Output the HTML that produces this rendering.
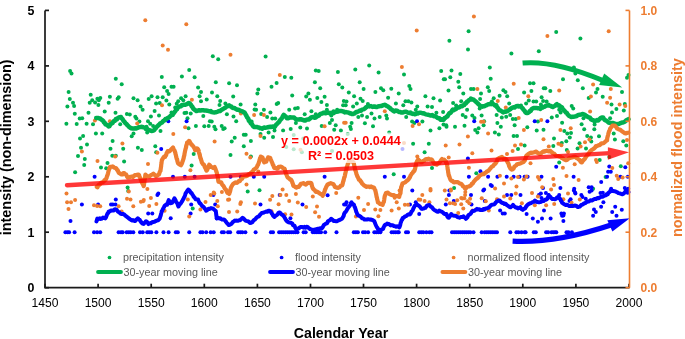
<!DOCTYPE html>
<html><head><meta charset="utf-8"><style>
html,body{margin:0;padding:0;background:#fff;}
body{width:685px;height:339px;overflow:hidden;}
svg{display:block;will-change:transform;font-family:"Liberation Sans",sans-serif;}
</style></head><body>
<svg width="685" height="339" viewBox="0 0 685 339">
<g fill="#00B050"><circle cx="70.1" cy="71.1" r="2.0"/><circle cx="71.5" cy="73.4" r="2.0"/><circle cx="68.6" cy="92.0" r="2.0"/><circle cx="90.7" cy="94.7" r="2.0"/><circle cx="115.8" cy="78.7" r="2.0"/><circle cx="121.7" cy="84.3" r="2.0"/><circle cx="212.8" cy="56.3" r="2.0"/><circle cx="218.2" cy="59.3" r="2.0"/><circle cx="189.2" cy="69.9" r="2.0"/><circle cx="161.8" cy="77.0" r="2.0"/><circle cx="181.9" cy="76.4" r="2.0"/><circle cx="194.6" cy="77.3" r="2.0"/><circle cx="215.8" cy="82.3" r="2.0"/><circle cx="229.1" cy="83.2" r="2.0"/><circle cx="237.0" cy="85.2" r="2.0"/><circle cx="164.2" cy="87.3" r="2.0"/><circle cx="171.5" cy="86.7" r="2.0"/><circle cx="173.6" cy="86.7" r="2.0"/><circle cx="167.1" cy="91.1" r="2.0"/><circle cx="168.6" cy="94.1" r="2.0"/><circle cx="198.1" cy="87.6" r="2.0"/><circle cx="201.0" cy="92.0" r="2.0"/><circle cx="212.0" cy="92.6" r="2.0"/><circle cx="265.6" cy="56.6" r="2.0"/><circle cx="284.8" cy="77.0" r="2.0"/><circle cx="291.3" cy="77.8" r="2.0"/><circle cx="276.6" cy="82.9" r="2.0"/><circle cx="271.5" cy="86.7" r="2.0"/><circle cx="258.3" cy="89.6" r="2.0"/><circle cx="257.4" cy="93.5" r="2.0"/><circle cx="315.8" cy="70.5" r="2.0"/><circle cx="318.7" cy="71.1" r="2.0"/><circle cx="337.9" cy="71.9" r="2.0"/><circle cx="314.9" cy="82.3" r="2.0"/><circle cx="320.2" cy="88.2" r="2.0"/><circle cx="338.8" cy="84.3" r="2.0"/><circle cx="342.3" cy="87.6" r="2.0"/><circle cx="308.4" cy="93.5" r="2.0"/><circle cx="369.2" cy="65.5" r="2.0"/><circle cx="355.3" cy="69.6" r="2.0"/><circle cx="378.6" cy="72.5" r="2.0"/><circle cx="404.0" cy="74.6" r="2.0"/><circle cx="441.2" cy="71.1" r="2.0"/><circle cx="443.8" cy="79.3" r="2.0"/><circle cx="359.7" cy="82.3" r="2.0"/><circle cx="363.6" cy="89.1" r="2.0"/><circle cx="348.8" cy="92.6" r="2.0"/><circle cx="375.4" cy="92.0" r="2.0"/><circle cx="381.0" cy="88.2" r="2.0"/><circle cx="383.3" cy="90.2" r="2.0"/><circle cx="391.3" cy="88.8" r="2.0"/><circle cx="398.7" cy="93.5" r="2.0"/><circle cx="409.3" cy="86.1" r="2.0"/><circle cx="410.5" cy="89.1" r="2.0"/><circle cx="468.6" cy="31.2" r="2.0"/><circle cx="449.4" cy="40.7" r="2.0"/><circle cx="468.0" cy="49.5" r="2.0"/><circle cx="511.4" cy="53.4" r="2.0"/><circle cx="538.8" cy="51.3" r="2.0"/><circle cx="489.8" cy="67.5" r="2.0"/><circle cx="451.5" cy="70.5" r="2.0"/><circle cx="460.3" cy="74.0" r="2.0"/><circle cx="450.3" cy="77.3" r="2.0"/><circle cx="458.3" cy="81.7" r="2.0"/><circle cx="490.7" cy="78.7" r="2.0"/><circle cx="445.0" cy="79.3" r="2.0"/><circle cx="459.2" cy="87.3" r="2.0"/><circle cx="448.5" cy="90.5" r="2.0"/><circle cx="463.3" cy="93.5" r="2.0"/><circle cx="471.0" cy="89.1" r="2.0"/><circle cx="473.6" cy="89.1" r="2.0"/><circle cx="487.8" cy="87.3" r="2.0"/><circle cx="489.2" cy="91.1" r="2.0"/><circle cx="481.0" cy="93.5" r="2.0"/><circle cx="503.4" cy="90.2" r="2.0"/><circle cx="505.5" cy="92.0" r="2.0"/><circle cx="530.0" cy="83.2" r="2.0"/><circle cx="533.5" cy="83.2" r="2.0"/><circle cx="524.1" cy="92.6" r="2.0"/><circle cx="531.4" cy="91.1" r="2.0"/><circle cx="543.8" cy="88.2" r="2.0"/><circle cx="556.2" cy="32.1" r="2.0"/><circle cx="580.4" cy="38.6" r="2.0"/><circle cx="573.9" cy="67.5" r="2.0"/><circle cx="575.4" cy="73.4" r="2.0"/><circle cx="563.0" cy="79.3" r="2.0"/><circle cx="577.8" cy="80.2" r="2.0"/><circle cx="545.3" cy="88.2" r="2.0"/><circle cx="550.3" cy="91.1" r="2.0"/><circle cx="582.8" cy="88.2" r="2.0"/><circle cx="597.5" cy="89.1" r="2.0"/><circle cx="596.0" cy="92.6" r="2.0"/><circle cx="622.0" cy="92.0" r="2.0"/><circle cx="627.0" cy="77.8" r="2.0"/><circle cx="628.5" cy="74.9" r="2.0"/><circle cx="123.2" cy="148.7" r="2.0"/><circle cx="110.5" cy="148.7" r="2.0"/><circle cx="137.9" cy="147.8" r="2.0"/><circle cx="141.8" cy="150.1" r="2.0"/><circle cx="81.0" cy="147.8" r="2.0"/><circle cx="78.0" cy="156.0" r="2.0"/><circle cx="84.8" cy="159.0" r="2.0"/><circle cx="112.3" cy="155.7" r="2.0"/><circle cx="115.8" cy="155.7" r="2.0"/><circle cx="124.1" cy="161.6" r="2.0"/><circle cx="84.2" cy="164.9" r="2.0"/><circle cx="107.5" cy="163.1" r="2.0"/><circle cx="101.0" cy="167.5" r="2.0"/><circle cx="75.1" cy="172.3" r="2.0"/><circle cx="128.2" cy="191.1" r="2.0"/><circle cx="127.6" cy="187.6" r="2.0"/><circle cx="243.8" cy="146.3" r="2.0"/><circle cx="230.5" cy="155.1" r="2.0"/><circle cx="155.3" cy="146.3" r="2.0"/><circle cx="156.2" cy="152.2" r="2.0"/><circle cx="191.6" cy="165.5" r="2.0"/><circle cx="250.9" cy="156.6" r="2.0"/><circle cx="286.3" cy="146.9" r="2.0"/><circle cx="293.7" cy="149.2" r="2.0"/><circle cx="301.9" cy="152.2" r="2.0"/><circle cx="332.0" cy="151.0" r="2.0"/><circle cx="424.6" cy="152.2" r="2.0"/><circle cx="393.7" cy="174.3" r="2.0"/><circle cx="192.7" cy="208.4" r="2.0"/><circle cx="69.8" cy="99.1" r="2.0"/><circle cx="73.0" cy="102.7" r="2.0"/><circle cx="74.1" cy="106.1" r="2.0"/><circle cx="67.4" cy="106.5" r="2.0"/><circle cx="92.2" cy="100.2" r="2.0"/><circle cx="89.7" cy="102.7" r="2.0"/><circle cx="95.1" cy="102.4" r="2.0"/><circle cx="97.4" cy="98.7" r="2.0"/><circle cx="100.3" cy="98.0" r="2.0"/><circle cx="98.8" cy="100.2" r="2.0"/><circle cx="98.4" cy="105.0" r="2.0"/><circle cx="109.9" cy="96.8" r="2.0"/><circle cx="108.7" cy="102.7" r="2.0"/><circle cx="118.7" cy="97.2" r="2.0"/><circle cx="117.6" cy="98.7" r="2.0"/><circle cx="133.5" cy="98.2" r="2.0"/><circle cx="137.6" cy="100.2" r="2.0"/><circle cx="140.6" cy="106.5" r="2.0"/><circle cx="142.6" cy="109.7" r="2.0"/><circle cx="74.8" cy="113.7" r="2.0"/><circle cx="88.5" cy="112.7" r="2.0"/><circle cx="104.7" cy="111.5" r="2.0"/><circle cx="115.5" cy="112.7" r="2.0"/><circle cx="126.9" cy="113.9" r="2.0"/><circle cx="129.8" cy="114.5" r="2.0"/><circle cx="79.7" cy="118.6" r="2.0"/><circle cx="82.2" cy="118.3" r="2.0"/><circle cx="66.4" cy="123.8" r="2.0"/><circle cx="76.7" cy="124.1" r="2.0"/><circle cx="86.6" cy="123.8" r="2.0"/><circle cx="93.0" cy="124.2" r="2.0"/><circle cx="120.2" cy="124.2" r="2.0"/><circle cx="135.3" cy="116.8" r="2.0"/><circle cx="136.4" cy="118.6" r="2.0"/><circle cx="139.4" cy="121.5" r="2.0"/><circle cx="95.9" cy="133.6" r="2.0"/><circle cx="102.2" cy="133.6" r="2.0"/><circle cx="80.0" cy="138.5" r="2.0"/><circle cx="83.1" cy="136.0" r="2.0"/><circle cx="112.6" cy="141.0" r="2.0"/><circle cx="87.0" cy="144.4" r="2.0"/><circle cx="133.5" cy="133.6" r="2.0"/><circle cx="131.7" cy="136.3" r="2.0"/><circle cx="151.6" cy="96.2" r="2.0"/><circle cx="148.7" cy="99.1" r="2.0"/><circle cx="157.5" cy="97.2" r="2.0"/><circle cx="162.7" cy="97.2" r="2.0"/><circle cx="166.4" cy="100.6" r="2.0"/><circle cx="156.1" cy="103.6" r="2.0"/><circle cx="159.7" cy="103.1" r="2.0"/><circle cx="169.3" cy="104.6" r="2.0"/><circle cx="154.6" cy="110.9" r="2.0"/><circle cx="159.0" cy="115.4" r="2.0"/><circle cx="150.9" cy="116.4" r="2.0"/><circle cx="148.0" cy="121.3" r="2.0"/><circle cx="150.2" cy="123.8" r="2.0"/><circle cx="153.1" cy="126.0" r="2.0"/><circle cx="146.5" cy="126.7" r="2.0"/><circle cx="147.2" cy="132.6" r="2.0"/><circle cx="160.5" cy="131.1" r="2.0"/><circle cx="181.1" cy="98.2" r="2.0"/><circle cx="183.3" cy="100.2" r="2.0"/><circle cx="178.2" cy="101.2" r="2.0"/><circle cx="176.7" cy="103.8" r="2.0"/><circle cx="175.2" cy="107.5" r="2.0"/><circle cx="171.5" cy="112.4" r="2.0"/><circle cx="184.5" cy="113.0" r="2.0"/><circle cx="186.3" cy="112.7" r="2.0"/><circle cx="190.7" cy="113.4" r="2.0"/><circle cx="187.5" cy="118.3" r="2.0"/><circle cx="185.6" cy="96.2" r="2.0"/><circle cx="199.6" cy="96.2" r="2.0"/><circle cx="201.0" cy="101.2" r="2.0"/><circle cx="206.7" cy="99.4" r="2.0"/><circle cx="203.3" cy="116.0" r="2.0"/><circle cx="195.9" cy="126.0" r="2.0"/><circle cx="188.5" cy="128.2" r="2.0"/><circle cx="204.3" cy="126.3" r="2.0"/><circle cx="208.7" cy="126.0" r="2.0"/><circle cx="209.9" cy="121.3" r="2.0"/><circle cx="211.7" cy="121.5" r="2.0"/><circle cx="214.3" cy="126.7" r="2.0"/><circle cx="215.5" cy="129.2" r="2.0"/><circle cx="221.7" cy="126.0" r="2.0"/><circle cx="223.2" cy="128.9" r="2.0"/><circle cx="224.6" cy="128.2" r="2.0"/><circle cx="217.3" cy="96.2" r="2.0"/><circle cx="220.2" cy="100.9" r="2.0"/><circle cx="219.5" cy="105.0" r="2.0"/><circle cx="225.4" cy="103.6" r="2.0"/><circle cx="226.9" cy="114.2" r="2.0"/><circle cx="233.5" cy="116.4" r="2.0"/><circle cx="236.2" cy="121.3" r="2.0"/><circle cx="233.2" cy="96.5" r="2.0"/><circle cx="240.6" cy="104.6" r="2.0"/><circle cx="243.8" cy="134.8" r="2.0"/><circle cx="234.7" cy="137.8" r="2.0"/><circle cx="231.7" cy="141.5" r="2.0"/><circle cx="292.2" cy="95.4" r="2.0"/><circle cx="306.2" cy="96.5" r="2.0"/><circle cx="309.9" cy="99.7" r="2.0"/><circle cx="317.3" cy="98.0" r="2.0"/><circle cx="324.6" cy="96.8" r="2.0"/><circle cx="321.4" cy="102.1" r="2.0"/><circle cx="326.9" cy="105.0" r="2.0"/><circle cx="343.8" cy="100.9" r="2.0"/><circle cx="343.1" cy="105.3" r="2.0"/><circle cx="278.2" cy="103.1" r="2.0"/><circle cx="276.7" cy="104.1" r="2.0"/><circle cx="255.3" cy="104.6" r="2.0"/><circle cx="254.6" cy="109.5" r="2.0"/><circle cx="256.1" cy="109.7" r="2.0"/><circle cx="263.9" cy="109.7" r="2.0"/><circle cx="261.2" cy="113.9" r="2.0"/><circle cx="267.1" cy="117.1" r="2.0"/><circle cx="270.4" cy="112.4" r="2.0"/><circle cx="272.3" cy="118.6" r="2.0"/><circle cx="275.2" cy="118.6" r="2.0"/><circle cx="289.2" cy="109.7" r="2.0"/><circle cx="295.1" cy="108.6" r="2.0"/><circle cx="297.8" cy="108.0" r="2.0"/><circle cx="304.7" cy="114.2" r="2.0"/><circle cx="311.4" cy="111.2" r="2.0"/><circle cx="315.8" cy="114.2" r="2.0"/><circle cx="326.9" cy="109.7" r="2.0"/><circle cx="331.3" cy="115.6" r="2.0"/><circle cx="333.5" cy="111.2" r="2.0"/><circle cx="337.2" cy="109.7" r="2.0"/><circle cx="329.8" cy="123.0" r="2.0"/><circle cx="332.0" cy="120.1" r="2.0"/><circle cx="335.7" cy="125.2" r="2.0"/><circle cx="334.2" cy="129.7" r="2.0"/><circle cx="340.9" cy="130.4" r="2.0"/><circle cx="321.7" cy="126.0" r="2.0"/><circle cx="307.0" cy="128.6" r="2.0"/><circle cx="300.3" cy="127.4" r="2.0"/><circle cx="295.9" cy="123.0" r="2.0"/><circle cx="290.7" cy="128.9" r="2.0"/><circle cx="283.1" cy="130.4" r="2.0"/><circle cx="274.5" cy="130.4" r="2.0"/><circle cx="268.6" cy="132.6" r="2.0"/><circle cx="264.2" cy="137.8" r="2.0"/><circle cx="273.0" cy="137.0" r="2.0"/><circle cx="260.5" cy="134.1" r="2.0"/><circle cx="250.9" cy="141.0" r="2.0"/><circle cx="245.7" cy="134.8" r="2.0"/><circle cx="251.6" cy="121.5" r="2.0"/><circle cx="293.7" cy="135.1" r="2.0"/><circle cx="303.3" cy="138.5" r="2.0"/><circle cx="354.1" cy="96.2" r="2.0"/><circle cx="360.5" cy="98.7" r="2.0"/><circle cx="362.7" cy="100.9" r="2.0"/><circle cx="356.8" cy="103.6" r="2.0"/><circle cx="353.1" cy="106.5" r="2.0"/><circle cx="346.5" cy="101.6" r="2.0"/><circle cx="345.7" cy="105.3" r="2.0"/><circle cx="367.9" cy="104.1" r="2.0"/><circle cx="369.3" cy="106.1" r="2.0"/><circle cx="388.1" cy="97.7" r="2.0"/><circle cx="395.9" cy="103.6" r="2.0"/><circle cx="403.3" cy="105.3" r="2.0"/><circle cx="405.5" cy="101.2" r="2.0"/><circle cx="408.4" cy="101.2" r="2.0"/><circle cx="411.4" cy="102.4" r="2.0"/><circle cx="425.4" cy="96.2" r="2.0"/><circle cx="433.5" cy="98.2" r="2.0"/><circle cx="440.1" cy="100.6" r="2.0"/><circle cx="417.3" cy="106.5" r="2.0"/><circle cx="427.6" cy="106.5" r="2.0"/><circle cx="432.0" cy="107.1" r="2.0"/><circle cx="415.8" cy="109.7" r="2.0"/><circle cx="436.4" cy="112.7" r="2.0"/><circle cx="443.1" cy="112.0" r="2.0"/><circle cx="358.3" cy="117.1" r="2.0"/><circle cx="362.0" cy="115.4" r="2.0"/><circle cx="367.1" cy="117.1" r="2.0"/><circle cx="371.5" cy="113.4" r="2.0"/><circle cx="374.5" cy="118.6" r="2.0"/><circle cx="379.7" cy="117.1" r="2.0"/><circle cx="386.3" cy="115.6" r="2.0"/><circle cx="387.0" cy="118.6" r="2.0"/><circle cx="406.2" cy="117.1" r="2.0"/><circle cx="412.1" cy="121.5" r="2.0"/><circle cx="414.3" cy="123.0" r="2.0"/><circle cx="422.4" cy="121.5" r="2.0"/><circle cx="351.6" cy="123.0" r="2.0"/><circle cx="350.2" cy="126.7" r="2.0"/><circle cx="350.9" cy="128.9" r="2.0"/><circle cx="364.9" cy="123.3" r="2.0"/><circle cx="373.0" cy="126.3" r="2.0"/><circle cx="430.5" cy="130.4" r="2.0"/><circle cx="439.4" cy="128.2" r="2.0"/><circle cx="443.5" cy="124.5" r="2.0"/><circle cx="413.1" cy="143.7" r="2.0"/><circle cx="428.8" cy="143.7" r="2.0"/><circle cx="389.2" cy="132.6" r="2.0"/><circle cx="347.7" cy="134.1" r="2.0"/><circle cx="453.1" cy="103.1" r="2.0"/><circle cx="456.1" cy="105.6" r="2.0"/><circle cx="461.2" cy="101.2" r="2.0"/><circle cx="464.2" cy="105.3" r="2.0"/><circle cx="467.1" cy="109.7" r="2.0"/><circle cx="470.8" cy="98.2" r="2.0"/><circle cx="480.1" cy="99.1" r="2.0"/><circle cx="479.7" cy="108.6" r="2.0"/><circle cx="493.7" cy="98.2" r="2.0"/><circle cx="491.9" cy="101.6" r="2.0"/><circle cx="499.6" cy="95.7" r="2.0"/><circle cx="507.2" cy="96.2" r="2.0"/><circle cx="509.2" cy="103.6" r="2.0"/><circle cx="521.0" cy="105.6" r="2.0"/><circle cx="526.1" cy="103.6" r="2.0"/><circle cx="528.8" cy="100.6" r="2.0"/><circle cx="533.5" cy="101.6" r="2.0"/><circle cx="536.2" cy="101.6" r="2.0"/><circle cx="541.6" cy="97.2" r="2.0"/><circle cx="543.1" cy="100.9" r="2.0"/><circle cx="540.9" cy="104.6" r="2.0"/><circle cx="462.7" cy="114.9" r="2.0"/><circle cx="465.6" cy="117.1" r="2.0"/><circle cx="472.3" cy="115.4" r="2.0"/><circle cx="474.5" cy="117.9" r="2.0"/><circle cx="481.6" cy="115.4" r="2.0"/><circle cx="496.6" cy="114.9" r="2.0"/><circle cx="501.8" cy="117.4" r="2.0"/><circle cx="506.2" cy="116.8" r="2.0"/><circle cx="510.2" cy="114.9" r="2.0"/><circle cx="512.8" cy="118.9" r="2.0"/><circle cx="515.8" cy="118.9" r="2.0"/><circle cx="537.9" cy="121.5" r="2.0"/><circle cx="484.1" cy="121.3" r="2.0"/><circle cx="483.6" cy="125.2" r="2.0"/><circle cx="497.4" cy="123.0" r="2.0"/><circle cx="500.8" cy="126.7" r="2.0"/><circle cx="514.6" cy="125.2" r="2.0"/><circle cx="527.3" cy="127.2" r="2.0"/><circle cx="536.7" cy="130.4" r="2.0"/><circle cx="543.5" cy="129.7" r="2.0"/><circle cx="446.2" cy="125.2" r="2.0"/><circle cx="446.5" cy="126.7" r="2.0"/><circle cx="455.0" cy="126.7" r="2.0"/><circle cx="464.5" cy="125.7" r="2.0"/><circle cx="475.2" cy="130.1" r="2.0"/><circle cx="478.6" cy="128.2" r="2.0"/><circle cx="477.4" cy="132.6" r="2.0"/><circle cx="494.9" cy="132.6" r="2.0"/><circle cx="498.8" cy="134.5" r="2.0"/><circle cx="513.6" cy="136.0" r="2.0"/><circle cx="517.0" cy="136.0" r="2.0"/><circle cx="546.6" cy="101.6" r="2.0"/><circle cx="588.7" cy="98.0" r="2.0"/><circle cx="602.7" cy="96.8" r="2.0"/><circle cx="571.7" cy="106.1" r="2.0"/><circle cx="573.2" cy="108.6" r="2.0"/><circle cx="559.2" cy="109.7" r="2.0"/><circle cx="560.6" cy="112.4" r="2.0"/><circle cx="557.0" cy="116.0" r="2.0"/><circle cx="551.8" cy="117.4" r="2.0"/><circle cx="562.1" cy="122.7" r="2.0"/><circle cx="564.3" cy="131.1" r="2.0"/><circle cx="567.3" cy="133.6" r="2.0"/><circle cx="571.0" cy="133.1" r="2.0"/><circle cx="569.8" cy="137.5" r="2.0"/><circle cx="554.0" cy="138.5" r="2.0"/><circle cx="581.6" cy="124.2" r="2.0"/><circle cx="584.2" cy="129.2" r="2.0"/><circle cx="583.5" cy="118.3" r="2.0"/><circle cx="594.6" cy="124.5" r="2.0"/><circle cx="594.3" cy="129.2" r="2.0"/><circle cx="599.0" cy="136.3" r="2.0"/><circle cx="587.2" cy="136.0" r="2.0"/><circle cx="590.9" cy="137.5" r="2.0"/><circle cx="611.5" cy="104.6" r="2.0"/><circle cx="624.8" cy="103.9" r="2.0"/><circle cx="616.4" cy="109.0" r="2.0"/><circle cx="623.8" cy="110.5" r="2.0"/><circle cx="612.0" cy="112.4" r="2.0"/><circle cx="610.1" cy="118.3" r="2.0"/><circle cx="613.7" cy="133.6" r="2.0"/><circle cx="614.9" cy="139.5" r="2.0"/><circle cx="106.2" cy="168.3" r="2.0"/><circle cx="193.7" cy="154.0" r="2.0"/><circle cx="518.0" cy="149.1" r="2.0"/><circle cx="524.6" cy="145.6" r="2.0"/><circle cx="476.3" cy="173.2" r="2.0"/><circle cx="454.1" cy="188.0" r="2.0"/><circle cx="432.0" cy="168.0" r="2.0"/><circle cx="553.3" cy="145.9" r="2.0"/><circle cx="561.8" cy="143.0" r="2.0"/><circle cx="566.3" cy="141.2" r="2.0"/><circle cx="579.5" cy="143.2" r="2.0"/><circle cx="577.6" cy="148.6" r="2.0"/><circle cx="586.0" cy="148.6" r="2.0"/><circle cx="566.8" cy="150.0" r="2.0"/><circle cx="559.2" cy="162.4" r="2.0"/><circle cx="599.7" cy="159.9" r="2.0"/><circle cx="609.3" cy="157.0" r="2.0"/><circle cx="620.8" cy="166.3" r="2.0"/><circle cx="626.3" cy="145.6" r="2.0"/><circle cx="605.6" cy="176.9" r="2.0"/><circle cx="593.1" cy="188.7" r="2.0"/><circle cx="623.3" cy="141.2" r="2.0"/><circle cx="591.3" cy="141.5" r="2.0"/><circle cx="247.7" cy="191.6" r="2.0"/><circle cx="259.5" cy="190.2" r="2.0"/></g>
<g fill="#0000FF"><circle cx="65.4" cy="232.2" r="2.0"/><circle cx="67.5" cy="232.2" r="2.0"/><circle cx="69.1" cy="232.2" r="2.0"/><circle cx="74.6" cy="232.2" r="2.0"/><circle cx="94.0" cy="232.2" r="2.0"/><circle cx="97.1" cy="232.2" r="2.0"/><circle cx="100.2" cy="232.2" r="2.0"/><circle cx="118.6" cy="232.2" r="2.0"/><circle cx="121.0" cy="232.2" r="2.0"/><circle cx="122.7" cy="232.2" r="2.0"/><circle cx="126.7" cy="232.2" r="2.0"/><circle cx="128.8" cy="232.2" r="2.0"/><circle cx="130.8" cy="232.2" r="2.0"/><circle cx="133.3" cy="232.2" r="2.0"/><circle cx="140.0" cy="232.2" r="2.0"/><circle cx="142.7" cy="232.2" r="2.0"/><circle cx="147.2" cy="232.2" r="2.0"/><circle cx="149.2" cy="232.2" r="2.0"/><circle cx="151.3" cy="232.2" r="2.0"/><circle cx="156.4" cy="232.2" r="2.0"/><circle cx="163.5" cy="232.2" r="2.0"/><circle cx="168.6" cy="232.2" r="2.0"/><circle cx="175.8" cy="232.2" r="2.0"/><circle cx="177.8" cy="232.2" r="2.0"/><circle cx="189.2" cy="232.2" r="2.0"/><circle cx="200.4" cy="232.2" r="2.0"/><circle cx="202.5" cy="232.2" r="2.0"/><circle cx="206.2" cy="232.2" r="2.0"/><circle cx="210.7" cy="232.2" r="2.0"/><circle cx="213.7" cy="232.2" r="2.0"/><circle cx="221.9" cy="232.2" r="2.0"/><circle cx="223.9" cy="232.2" r="2.0"/><circle cx="228.0" cy="232.2" r="2.0"/><circle cx="230.1" cy="232.2" r="2.0"/><circle cx="238.2" cy="232.2" r="2.0"/><circle cx="240.3" cy="232.2" r="2.0"/><circle cx="242.3" cy="232.2" r="2.0"/><circle cx="245.4" cy="232.2" r="2.0"/><circle cx="255.6" cy="232.2" r="2.0"/><circle cx="270.9" cy="232.2" r="2.0"/><circle cx="273.0" cy="232.2" r="2.0"/><circle cx="279.1" cy="232.2" r="2.0"/><circle cx="281.2" cy="232.2" r="2.0"/><circle cx="283.2" cy="232.2" r="2.0"/><circle cx="285.3" cy="232.2" r="2.0"/><circle cx="287.3" cy="232.2" r="2.0"/><circle cx="289.3" cy="232.2" r="2.0"/><circle cx="291.4" cy="232.2" r="2.0"/><circle cx="293.4" cy="232.2" r="2.0"/><circle cx="295.5" cy="232.2" r="2.0"/><circle cx="297.5" cy="232.2" r="2.0"/><circle cx="303.6" cy="232.2" r="2.0"/><circle cx="305.7" cy="232.2" r="2.0"/><circle cx="312.8" cy="232.2" r="2.0"/><circle cx="314.9" cy="232.2" r="2.0"/><circle cx="316.9" cy="232.2" r="2.0"/><circle cx="319.0" cy="232.2" r="2.0"/><circle cx="321.0" cy="232.2" r="2.0"/><circle cx="325.2" cy="232.2" r="2.0"/><circle cx="336.5" cy="232.2" r="2.0"/><circle cx="353.8" cy="232.2" r="2.0"/><circle cx="355.9" cy="232.2" r="2.0"/><circle cx="357.9" cy="232.2" r="2.0"/><circle cx="363.0" cy="232.2" r="2.0"/><circle cx="365.1" cy="232.2" r="2.0"/><circle cx="368.1" cy="232.2" r="2.0"/><circle cx="374.3" cy="232.2" r="2.0"/><circle cx="376.3" cy="232.2" r="2.0"/><circle cx="378.4" cy="232.2" r="2.0"/><circle cx="380.4" cy="232.2" r="2.0"/><circle cx="391.6" cy="232.2" r="2.0"/><circle cx="393.7" cy="232.2" r="2.0"/><circle cx="395.7" cy="232.2" r="2.0"/><circle cx="397.8" cy="232.2" r="2.0"/><circle cx="398.8" cy="232.2" r="2.0"/><circle cx="406.0" cy="232.2" r="2.0"/><circle cx="408.0" cy="232.2" r="2.0"/><circle cx="419.2" cy="232.2" r="2.0"/><circle cx="421.3" cy="232.2" r="2.0"/><circle cx="423.3" cy="232.2" r="2.0"/><circle cx="426.4" cy="232.2" r="2.0"/><circle cx="429.4" cy="232.2" r="2.0"/><circle cx="431.5" cy="232.2" r="2.0"/><circle cx="452.0" cy="232.2" r="2.0"/><circle cx="454.1" cy="232.2" r="2.0"/><circle cx="456.1" cy="232.2" r="2.0"/><circle cx="458.2" cy="232.2" r="2.0"/><circle cx="460.2" cy="232.2" r="2.0"/><circle cx="462.3" cy="232.2" r="2.0"/><circle cx="464.3" cy="232.2" r="2.0"/><circle cx="466.3" cy="232.2" r="2.0"/><circle cx="468.4" cy="232.2" r="2.0"/><circle cx="470.4" cy="232.2" r="2.0"/><circle cx="473.5" cy="232.2" r="2.0"/><circle cx="481.7" cy="232.2" r="2.0"/><circle cx="484.7" cy="232.2" r="2.0"/><circle cx="486.8" cy="232.2" r="2.0"/><circle cx="488.8" cy="232.2" r="2.0"/><circle cx="490.9" cy="232.2" r="2.0"/><circle cx="492.9" cy="232.2" r="2.0"/><circle cx="495.0" cy="232.2" r="2.0"/><circle cx="497.0" cy="232.2" r="2.0"/><circle cx="510.3" cy="232.2" r="2.0"/><circle cx="516.4" cy="232.2" r="2.0"/><circle cx="518.5" cy="232.2" r="2.0"/><circle cx="521.5" cy="232.2" r="2.0"/><circle cx="524.6" cy="232.2" r="2.0"/><circle cx="525.6" cy="232.2" r="2.0"/><circle cx="533.8" cy="232.2" r="2.0"/><circle cx="535.8" cy="232.2" r="2.0"/><circle cx="546.1" cy="232.2" r="2.0"/><circle cx="548.1" cy="232.2" r="2.0"/><circle cx="551.5" cy="232.2" r="2.0"/><circle cx="553.3" cy="232.2" r="2.0"/><circle cx="555.0" cy="232.2" r="2.0"/><circle cx="556.3" cy="232.2" r="2.0"/><circle cx="566.5" cy="232.2" r="2.0"/><circle cx="568.5" cy="232.2" r="2.0"/><circle cx="571.9" cy="232.2" r="2.0"/><circle cx="94.6" cy="176.8" r="2.0"/><circle cx="81.9" cy="204.5" r="2.0"/><circle cx="115.8" cy="199.4" r="2.0"/><circle cx="112.8" cy="204.5" r="2.0"/><circle cx="98.1" cy="204.5" r="2.0"/><circle cx="161.2" cy="149.0" r="2.0"/><circle cx="173.0" cy="176.8" r="2.0"/><circle cx="184.8" cy="176.8" r="2.0"/><circle cx="194.6" cy="176.8" r="2.0"/><circle cx="230.5" cy="176.8" r="2.0"/><circle cx="240.9" cy="176.8" r="2.0"/><circle cx="158.3" cy="193.5" r="2.0"/><circle cx="213.4" cy="195.0" r="2.0"/><circle cx="253.8" cy="176.8" r="2.0"/><circle cx="264.2" cy="176.8" r="2.0"/><circle cx="324.6" cy="176.8" r="2.0"/><circle cx="402.5" cy="149.0" r="2.0"/><circle cx="384.8" cy="176.8" r="2.0"/><circle cx="404.0" cy="176.8" r="2.0"/><circle cx="412.3" cy="190.5" r="2.0"/><circle cx="351.5" cy="202.3" r="2.0"/><circle cx="415.8" cy="202.3" r="2.0"/><circle cx="346.5" cy="202.3" r="2.0"/><circle cx="449.4" cy="190.5" r="2.0"/><circle cx="483.3" cy="190.5" r="2.0"/><circle cx="471.0" cy="195.0" r="2.0"/><circle cx="507.0" cy="195.0" r="2.0"/><circle cx="540.9" cy="193.5" r="2.0"/><circle cx="453.8" cy="200.9" r="2.0"/><circle cx="484.8" cy="200.9" r="2.0"/><circle cx="591.6" cy="190.5" r="2.0"/><circle cx="545.9" cy="192.9" r="2.0"/><circle cx="559.2" cy="195.0" r="2.0"/><circle cx="573.9" cy="190.5" r="2.0"/><circle cx="575.4" cy="193.5" r="2.0"/><circle cx="581.3" cy="195.0" r="2.0"/><circle cx="585.7" cy="198.8" r="2.0"/><circle cx="600.5" cy="192.9" r="2.0"/><circle cx="603.4" cy="202.3" r="2.0"/><circle cx="541.5" cy="197.9" r="2.0"/><circle cx="569.5" cy="200.9" r="2.0"/><circle cx="111.0" cy="204.5" r="2.0"/><circle cx="115.5" cy="204.5" r="2.0"/><circle cx="157.4" cy="195.1" r="2.0"/><circle cx="70.5" cy="221.1" r="2.0"/><circle cx="148.2" cy="213.5" r="2.0"/><circle cx="152.3" cy="213.5" r="2.0"/><circle cx="170.7" cy="218.2" r="2.0"/><circle cx="191.2" cy="204.5" r="2.0"/><circle cx="190.6" cy="213.5" r="2.0"/><circle cx="215.2" cy="204.5" r="2.0"/><circle cx="216.8" cy="218.6" r="2.0"/><circle cx="345.7" cy="204.5" r="2.0"/><circle cx="448.9" cy="195.1" r="2.0"/><circle cx="445.8" cy="204.5" r="2.0"/><circle cx="419.2" cy="214.1" r="2.0"/><circle cx="410.0" cy="204.5" r="2.0"/><circle cx="511.3" cy="195.1" r="2.0"/><circle cx="520.5" cy="195.1" r="2.0"/><circle cx="538.9" cy="195.1" r="2.0"/><circle cx="570.6" cy="199.2" r="2.0"/><circle cx="575.1" cy="192.5" r="2.0"/><circle cx="500.1" cy="210.4" r="2.0"/><circle cx="502.7" cy="213.5" r="2.0"/><circle cx="504.8" cy="213.5" r="2.0"/><circle cx="526.6" cy="214.1" r="2.0"/><circle cx="532.8" cy="218.6" r="2.0"/><circle cx="537.9" cy="221.7" r="2.0"/><circle cx="542.0" cy="218.6" r="2.0"/><circle cx="544.0" cy="210.4" r="2.0"/><circle cx="550.6" cy="218.6" r="2.0"/><circle cx="561.4" cy="213.5" r="2.0"/><circle cx="563.4" cy="215.5" r="2.0"/><circle cx="563.4" cy="221.1" r="2.0"/><circle cx="471.5" cy="204.5" r="2.0"/><circle cx="582.5" cy="197.1" r="2.0"/><circle cx="589.6" cy="191.8" r="2.0"/><circle cx="602.8" cy="192.7" r="2.0"/><circle cx="601.1" cy="206.8" r="2.0"/><circle cx="594.0" cy="209.5" r="2.0"/><circle cx="595.8" cy="212.1" r="2.0"/><circle cx="593.1" cy="215.7" r="2.0"/><circle cx="563.9" cy="213.4" r="2.0"/><circle cx="562.1" cy="215.7" r="2.0"/><circle cx="615.2" cy="206.8" r="2.0"/><circle cx="621.8" cy="209.8" r="2.0"/><circle cx="612.2" cy="212.1" r="2.0"/><circle cx="616.5" cy="215.7" r="2.0"/><circle cx="627.6" cy="192.7" r="2.0"/><circle cx="168.3" cy="121.3" r="2.0"/><circle cx="186.6" cy="121.3" r="2.0"/><circle cx="417.0" cy="121.3" r="2.0"/><circle cx="474.2" cy="121.3" r="2.0"/><circle cx="534.7" cy="121.3" r="2.0"/><circle cx="547.4" cy="121.3" r="2.0"/><circle cx="467.9" cy="158.4" r="2.0"/><circle cx="480.4" cy="171.3" r="2.0"/><circle cx="468.9" cy="176.8" r="2.0"/><circle cx="488.1" cy="176.8" r="2.0"/><circle cx="497.4" cy="176.8" r="2.0"/><circle cx="506.7" cy="176.8" r="2.0"/><circle cx="513.6" cy="176.8" r="2.0"/><circle cx="519.5" cy="176.8" r="2.0"/><circle cx="524.6" cy="176.8" r="2.0"/><circle cx="527.6" cy="176.8" r="2.0"/><circle cx="490.7" cy="185.0" r="2.0"/><circle cx="491.9" cy="186.0" r="2.0"/><circle cx="484.1" cy="189.4" r="2.0"/><circle cx="556.2" cy="166.8" r="2.0"/><circle cx="609.3" cy="166.5" r="2.0"/><circle cx="608.1" cy="171.7" r="2.0"/><circle cx="610.8" cy="171.7" r="2.0"/><circle cx="607.1" cy="176.8" r="2.0"/><circle cx="625.3" cy="167.3" r="2.0"/><circle cx="541.5" cy="176.8" r="2.0"/><circle cx="573.6" cy="176.8" r="2.0"/><circle cx="620.4" cy="176.8" r="2.0"/><circle cx="627.8" cy="176.8" r="2.0"/><circle cx="601.2" cy="182.0" r="2.0"/><circle cx="543.0" cy="188.0" r="2.0"/><circle cx="560.4" cy="188.0" r="2.0"/><circle cx="574.2" cy="188.7" r="2.0"/><circle cx="588.7" cy="187.2" r="2.0"/><circle cx="591.6" cy="187.2" r="2.0"/><circle cx="611.1" cy="188.7" r="2.0"/><circle cx="624.8" cy="188.0" r="2.0"/><circle cx="628.2" cy="188.7" r="2.0"/><circle cx="279.7" cy="195.0" r="2.0"/><circle cx="260.5" cy="204.5" r="2.0"/><circle cx="302.5" cy="204.5" r="2.0"/><circle cx="327.6" cy="195.3" r="2.0"/><circle cx="290.4" cy="218.2" r="2.0"/><circle cx="344.1" cy="204.5" r="2.0"/></g>
<g fill="#ED7D31"><circle cx="145.3" cy="20.3" r="2.0"/><circle cx="186.3" cy="24.2" r="2.0"/><circle cx="162.7" cy="45.4" r="2.0"/><circle cx="168.0" cy="49.8" r="2.0"/><circle cx="230.5" cy="54.8" r="2.0"/><circle cx="279.8" cy="74.9" r="2.0"/><circle cx="416.7" cy="30.4" r="2.0"/><circle cx="401.9" cy="66.9" r="2.0"/><circle cx="473.9" cy="16.5" r="2.0"/><circle cx="513.7" cy="83.7" r="2.0"/><circle cx="477.4" cy="89.1" r="2.0"/><circle cx="547.4" cy="36.0" r="2.0"/><circle cx="608.7" cy="31.2" r="2.0"/><circle cx="559.2" cy="90.5" r="2.0"/><circle cx="593.1" cy="84.6" r="2.0"/><circle cx="610.8" cy="89.1" r="2.0"/><circle cx="81.9" cy="151.6" r="2.0"/><circle cx="97.5" cy="161.0" r="2.0"/><circle cx="115.2" cy="156.6" r="2.0"/><circle cx="66.5" cy="193.5" r="2.0"/><circle cx="67.1" cy="202.3" r="2.0"/><circle cx="71.0" cy="202.3" r="2.0"/><circle cx="75.1" cy="200.0" r="2.0"/><circle cx="97.5" cy="187.6" r="2.0"/><circle cx="99.6" cy="184.6" r="2.0"/><circle cx="127.0" cy="198.8" r="2.0"/><circle cx="130.5" cy="199.4" r="2.0"/><circle cx="140.9" cy="201.8" r="2.0"/><circle cx="143.8" cy="200.0" r="2.0"/><circle cx="157.4" cy="152.8" r="2.0"/><circle cx="148.0" cy="164.0" r="2.0"/><circle cx="147.4" cy="189.1" r="2.0"/><circle cx="150.9" cy="197.9" r="2.0"/><circle cx="187.8" cy="199.4" r="2.0"/><circle cx="214.3" cy="193.5" r="2.0"/><circle cx="217.3" cy="200.9" r="2.0"/><circle cx="229.1" cy="199.4" r="2.0"/><circle cx="240.9" cy="202.3" r="2.0"/><circle cx="246.5" cy="153.7" r="2.0"/><circle cx="250.3" cy="157.5" r="2.0"/><circle cx="246.5" cy="184.6" r="2.0"/><circle cx="258.3" cy="171.4" r="2.0"/><circle cx="300.5" cy="149.8" r="2.0"/><circle cx="417.3" cy="156.6" r="2.0"/><circle cx="430.5" cy="189.1" r="2.0"/><circle cx="399.6" cy="190.5" r="2.0"/><circle cx="393.7" cy="195.0" r="2.0"/><circle cx="418.7" cy="199.4" r="2.0"/><circle cx="424.6" cy="200.9" r="2.0"/><circle cx="532.0" cy="192.9" r="2.0"/><circle cx="450.9" cy="190.5" r="2.0"/><circle cx="461.2" cy="197.9" r="2.0"/><circle cx="465.1" cy="195.0" r="2.0"/><circle cx="470.1" cy="198.8" r="2.0"/><circle cx="504.0" cy="196.4" r="2.0"/><circle cx="515.8" cy="193.5" r="2.0"/><circle cx="537.9" cy="196.4" r="2.0"/><circle cx="446.5" cy="199.4" r="2.0"/><circle cx="568.0" cy="193.5" r="2.0"/><circle cx="579.8" cy="199.4" r="2.0"/><circle cx="68.5" cy="209.0" r="2.0"/><circle cx="94.0" cy="205.3" r="2.0"/><circle cx="97.1" cy="205.9" r="2.0"/><circle cx="100.2" cy="206.3" r="2.0"/><circle cx="118.6" cy="206.3" r="2.0"/><circle cx="128.8" cy="191.6" r="2.0"/><circle cx="133.3" cy="206.3" r="2.0"/><circle cx="143.1" cy="201.2" r="2.0"/><circle cx="149.2" cy="205.9" r="2.0"/><circle cx="156.4" cy="203.9" r="2.0"/><circle cx="164.6" cy="210.8" r="2.0"/><circle cx="121.6" cy="211.5" r="2.0"/><circle cx="210.7" cy="195.1" r="2.0"/><circle cx="213.7" cy="192.5" r="2.0"/><circle cx="221.9" cy="192.0" r="2.0"/><circle cx="228.0" cy="199.8" r="2.0"/><circle cx="205.5" cy="201.9" r="2.0"/><circle cx="200.4" cy="209.4" r="2.0"/><circle cx="189.2" cy="216.6" r="2.0"/><circle cx="217.8" cy="206.3" r="2.0"/><circle cx="229.0" cy="212.1" r="2.0"/><circle cx="237.2" cy="211.5" r="2.0"/><circle cx="240.3" cy="203.9" r="2.0"/><circle cx="358.3" cy="197.8" r="2.0"/><circle cx="368.1" cy="203.9" r="2.0"/><circle cx="364.0" cy="210.0" r="2.0"/><circle cx="375.3" cy="209.4" r="2.0"/><circle cx="380.4" cy="210.0" r="2.0"/><circle cx="378.4" cy="216.2" r="2.0"/><circle cx="391.6" cy="210.4" r="2.0"/><circle cx="398.8" cy="208.4" r="2.0"/><circle cx="396.7" cy="202.3" r="2.0"/><circle cx="394.7" cy="197.8" r="2.0"/><circle cx="404.9" cy="204.7" r="2.0"/><circle cx="408.0" cy="204.7" r="2.0"/><circle cx="420.3" cy="199.8" r="2.0"/><circle cx="422.3" cy="195.1" r="2.0"/><circle cx="429.4" cy="202.3" r="2.0"/><circle cx="430.5" cy="190.6" r="2.0"/><circle cx="444.8" cy="190.6" r="2.0"/><circle cx="449.9" cy="203.3" r="2.0"/><circle cx="355.9" cy="216.6" r="2.0"/><circle cx="465.3" cy="192.0" r="2.0"/><circle cx="464.3" cy="198.2" r="2.0"/><circle cx="462.3" cy="198.6" r="2.0"/><circle cx="457.2" cy="200.2" r="2.0"/><circle cx="455.1" cy="203.9" r="2.0"/><circle cx="453.1" cy="203.3" r="2.0"/><circle cx="461.2" cy="204.3" r="2.0"/><circle cx="467.4" cy="201.2" r="2.0"/><circle cx="469.4" cy="203.3" r="2.0"/><circle cx="463.3" cy="208.4" r="2.0"/><circle cx="458.2" cy="212.9" r="2.0"/><circle cx="472.5" cy="210.4" r="2.0"/><circle cx="481.7" cy="198.2" r="2.0"/><circle cx="485.8" cy="201.2" r="2.0"/><circle cx="488.8" cy="210.4" r="2.0"/><circle cx="497.0" cy="199.2" r="2.0"/><circle cx="510.3" cy="198.6" r="2.0"/><circle cx="521.9" cy="203.3" r="2.0"/><circle cx="534.8" cy="205.3" r="2.0"/><circle cx="546.1" cy="205.3" r="2.0"/><circle cx="554.2" cy="203.9" r="2.0"/><circle cx="563.4" cy="199.2" r="2.0"/><circle cx="571.6" cy="202.7" r="2.0"/><circle cx="94.9" cy="120.4" r="2.0"/><circle cx="109.9" cy="121.3" r="2.0"/><circle cx="137.2" cy="123.5" r="2.0"/><circle cx="122.4" cy="143.4" r="2.0"/><circle cx="162.0" cy="105.3" r="2.0"/><circle cx="191.9" cy="99.7" r="2.0"/><circle cx="185.1" cy="127.2" r="2.0"/><circle cx="173.3" cy="134.1" r="2.0"/><circle cx="214.6" cy="141.5" r="2.0"/><circle cx="240.9" cy="113.4" r="2.0"/><circle cx="254.1" cy="114.9" r="2.0"/><circle cx="263.9" cy="114.9" r="2.0"/><circle cx="324.6" cy="126.3" r="2.0"/><circle cx="344.1" cy="122.7" r="2.0"/><circle cx="260.5" cy="136.0" r="2.0"/><circle cx="384.8" cy="111.2" r="2.0"/><circle cx="412.6" cy="126.0" r="2.0"/><circle cx="419.0" cy="124.2" r="2.0"/><circle cx="345.7" cy="122.7" r="2.0"/><circle cx="404.0" cy="143.0" r="2.0"/><circle cx="497.8" cy="100.9" r="2.0"/><circle cx="505.8" cy="107.5" r="2.0"/><circle cx="528.3" cy="96.2" r="2.0"/><circle cx="518.7" cy="117.9" r="2.0"/><circle cx="481.1" cy="121.8" r="2.0"/><circle cx="483.6" cy="121.8" r="2.0"/><circle cx="541.2" cy="120.1" r="2.0"/><circle cx="523.9" cy="130.1" r="2.0"/><circle cx="488.1" cy="133.6" r="2.0"/><circle cx="467.9" cy="136.6" r="2.0"/><circle cx="543.5" cy="139.2" r="2.0"/><circle cx="459.5" cy="144.4" r="2.0"/><circle cx="521.0" cy="144.4" r="2.0"/><circle cx="590.9" cy="96.5" r="2.0"/><circle cx="610.1" cy="97.7" r="2.0"/><circle cx="607.1" cy="102.7" r="2.0"/><circle cx="619.6" cy="104.6" r="2.0"/><circle cx="625.3" cy="106.1" r="2.0"/><circle cx="590.1" cy="111.5" r="2.0"/><circle cx="560.4" cy="130.1" r="2.0"/><circle cx="570.7" cy="128.2" r="2.0"/><circle cx="589.4" cy="139.5" r="2.0"/><circle cx="627.0" cy="140.0" r="2.0"/><circle cx="190.4" cy="170.2" r="2.0"/><circle cx="445.7" cy="145.6" r="2.0"/><circle cx="448.7" cy="157.4" r="2.0"/><circle cx="472.3" cy="153.3" r="2.0"/><circle cx="468.9" cy="167.7" r="2.0"/><circle cx="491.5" cy="150.6" r="2.0"/><circle cx="507.0" cy="154.0" r="2.0"/><circle cx="512.6" cy="151.1" r="2.0"/><circle cx="515.0" cy="145.6" r="2.0"/><circle cx="499.9" cy="175.7" r="2.0"/><circle cx="511.4" cy="178.6" r="2.0"/><circle cx="518.0" cy="176.9" r="2.0"/><circle cx="523.9" cy="179.5" r="2.0"/><circle cx="526.4" cy="176.6" r="2.0"/><circle cx="530.5" cy="163.3" r="2.0"/><circle cx="537.9" cy="176.9" r="2.0"/><circle cx="539.4" cy="179.5" r="2.0"/><circle cx="504.0" cy="183.5" r="2.0"/><circle cx="516.5" cy="186.5" r="2.0"/><circle cx="495.1" cy="188.4" r="2.0"/><circle cx="450.9" cy="189.4" r="2.0"/><circle cx="558.4" cy="143.7" r="2.0"/><circle cx="561.4" cy="145.2" r="2.0"/><circle cx="548.8" cy="146.6" r="2.0"/><circle cx="580.6" cy="146.6" r="2.0"/><circle cx="585.0" cy="142.2" r="2.0"/><circle cx="568.0" cy="152.1" r="2.0"/><circle cx="574.7" cy="164.3" r="2.0"/><circle cx="596.0" cy="159.9" r="2.0"/><circle cx="596.8" cy="162.1" r="2.0"/><circle cx="562.9" cy="167.7" r="2.0"/><circle cx="566.5" cy="176.1" r="2.0"/><circle cx="553.3" cy="179.1" r="2.0"/><circle cx="554.0" cy="185.0" r="2.0"/><circle cx="578.6" cy="180.1" r="2.0"/><circle cx="612.3" cy="168.0" r="2.0"/><circle cx="628.2" cy="163.3" r="2.0"/><circle cx="616.7" cy="175.7" r="2.0"/><circle cx="618.2" cy="179.1" r="2.0"/><circle cx="622.6" cy="177.6" r="2.0"/><circle cx="542.2" cy="187.2" r="2.0"/><circle cx="551.1" cy="189.4" r="2.0"/><circle cx="282.6" cy="189.4" r="2.0"/><circle cx="272.3" cy="196.1" r="2.0"/><circle cx="270.1" cy="199.7" r="2.0"/><circle cx="280.4" cy="195.0" r="2.0"/><circle cx="286.3" cy="195.0" r="2.0"/><circle cx="295.9" cy="194.1" r="2.0"/><circle cx="289.2" cy="200.9" r="2.0"/><circle cx="255.0" cy="203.4" r="2.0"/><circle cx="278.6" cy="204.2" r="2.0"/><circle cx="297.8" cy="202.4" r="2.0"/><circle cx="306.2" cy="207.1" r="2.0"/><circle cx="317.0" cy="206.4" r="2.0"/><circle cx="312.8" cy="196.5" r="2.0"/><circle cx="336.2" cy="193.1" r="2.0"/><circle cx="315.1" cy="212.3" r="2.0"/><circle cx="319.0" cy="216.7" r="2.0"/><circle cx="271.5" cy="211.3" r="2.0"/><circle cx="285.1" cy="214.2" r="2.0"/><circle cx="291.5" cy="214.5" r="2.0"/></g>
<polyline points="96.2,118.0 97.8,117.9 99.3,118.4 100.3,118.5 101.4,119.6 102.4,120.2 103.2,120.9 104.0,122.4 104.7,122.9 105.5,124.3 106.5,124.7 107.6,125.4 108.6,126.4 109.4,126.1 110.2,124.6 110.9,123.9 111.7,123.5 112.5,123.1 113.2,121.9 114.0,121.0 114.8,120.8 115.8,119.1 116.9,119.3 117.9,118.0 118.9,117.5 120.0,117.2 121.0,117.0 121.8,118.5 122.5,118.9 123.2,120.4 124.0,121.4 124.8,122.2 125.6,123.4 126.4,123.9 127.2,125.0 128.2,125.9 129.2,127.1 130.3,127.7 131.3,128.3 132.7,128.6 134.0,128.5 135.4,128.3 136.4,128.4 137.5,128.0 138.6,127.2 139.6,127.2 141.1,126.8 142.7,126.9 143.7,127.4 144.8,127.6 145.8,129.0 146.8,128.6 147.9,129.5 148.9,130.3 149.9,130.3 151.4,130.9 153.0,130.7 153.8,130.4 154.6,129.6 155.3,128.5 156.1,127.9 156.9,126.5 157.7,126.1 158.6,125.1 159.4,124.3 160.2,123.4 161.2,123.0 162.2,122.3 163.3,121.0 164.3,120.5 165.4,119.1 166.4,119.0 167.4,118.1 168.5,117.7 169.5,116.9 170.6,115.7 171.6,115.2 172.6,114.9 173.4,113.3 174.1,112.8 174.9,111.6 175.7,110.6 176.4,109.5 177.1,109.2 177.8,107.5 178.8,106.9 179.9,106.4 180.9,106.2 181.9,105.0 182.9,105.0 184.0,104.8 185.0,104.8 186.0,104.4 187.1,104.1 188.1,103.2 189.1,103.0 190.1,103.8 191.2,105.2 191.7,106.3 192.2,106.5 192.7,107.6 193.2,108.6 194.2,109.3 195.3,110.3 196.3,111.1 197.7,110.6 199.1,110.2 200.5,110.5 201.9,110.3 203.2,110.3 204.6,110.5 206.0,110.5 207.3,110.7 208.7,111.1 209.8,111.4 210.8,111.1 211.8,112.1 212.9,112.3 214.3,112.4 215.6,112.3 217.0,111.9 218.0,111.5 219.1,110.9 220.1,111.1 221.1,110.2 222.1,109.5 223.1,109.0 224.2,108.2 225.2,107.7 226.2,106.9 227.1,106.4 228.1,106.0 229.1,105.4 230.2,106.2 231.2,106.4 232.2,107.7 233.3,108.0 234.3,108.0 235.4,108.7 236.4,109.2 237.4,109.8 238.8,109.8 240.1,110.7 241.5,111.1 242.5,111.4 243.6,112.2 244.6,112.6 245.2,113.6 245.8,114.9 246.5,115.9 247.1,117.5 247.7,117.9 248.3,118.8 248.9,120.7 249.6,121.3 250.2,122.0 250.8,123.4 251.6,123.7 252.4,125.0 253.1,126.2 253.9,126.9 255.3,127.0 256.6,126.9 258.0,127.4 259.1,127.4 260.1,128.3 261.1,128.3 262.2,128.8 263.2,128.0 264.2,127.5 265.3,127.8 266.3,127.6 267.7,127.3 269.0,127.0 270.4,126.8 271.4,126.9 272.5,126.5 273.6,127.0 274.6,127.0 275.4,125.7 276.1,124.8 276.9,124.1 277.7,123.2 278.4,122.5 279.2,121.8 279.9,120.2 280.7,119.6 281.5,118.7 282.2,117.6 283.0,116.0 283.8,114.8 284.6,115.6 285.4,116.3 286.1,117.1 286.9,118.3 287.9,118.3 289.0,117.9 290.0,117.2 291.6,117.4 293.1,117.5 294.1,117.5 295.2,118.7 296.2,119.6 297.6,119.5 299.0,119.5 300.4,119.2 301.4,119.2 302.4,120.0 303.5,119.9 304.5,120.6 305.5,120.5 306.6,119.6 307.6,119.4 308.6,119.6 309.6,118.9 310.7,117.8 311.7,117.2 313.1,117.1 314.5,117.7 315.9,117.5 316.9,116.1 317.9,116.0 319.0,115.4 320.0,114.3 321.0,113.7 322.1,113.6 323.1,112.9 324.1,112.5 325.5,113.3 326.8,112.9 328.2,112.6 329.6,113.2 331.0,112.8 332.4,113.4 333.8,113.0 335.1,112.0 336.5,111.8 337.9,111.5 339.2,111.1 340.6,111.1 341.7,111.0 342.7,111.4 343.8,111.4 344.8,112.4 346.2,112.1 347.5,112.4 348.9,112.7 349.9,113.4 350.9,113.3 352.0,114.1 353.0,114.1 354.0,113.6 355.1,113.1 356.1,112.0 357.1,111.9 358.6,111.2 360.0,110.5 361.0,110.8 362.1,109.6 363.1,109.4 364.1,109.1 365.2,108.2 366.2,107.2 367.2,106.6 368.3,105.9 369.7,106.4 371.0,106.1 372.4,106.9 373.8,106.5 375.1,106.6 376.5,107.1 377.9,106.5 379.2,106.2 380.6,106.1 381.7,106.0 382.7,105.2 383.8,105.2 384.8,104.8 385.8,105.3 386.9,106.1 387.9,106.4 388.9,107.3 390.0,108.0 391.0,109.3 392.0,109.8 393.1,110.7 394.1,111.4 395.6,110.6 397.2,110.7 398.2,111.6 399.2,112.1 400.3,112.0 401.3,112.6 402.7,112.6 404.0,111.9 405.4,111.7 406.4,111.7 407.5,112.5 408.6,112.7 409.6,113.0 410.6,112.6 411.6,113.6 412.7,113.9 413.7,113.7 414.7,114.2 415.8,114.0 416.8,113.0 417.8,113.5 419.2,112.8 420.5,112.7 421.9,113.1 422.9,113.4 424.0,113.3 425.0,114.0 426.0,114.4 427.1,114.6 428.1,114.8 429.5,115.1 430.9,115.6 432.3,115.0 433.3,116.0 434.4,116.3 435.4,116.3 436.4,117.0 437.4,117.8 438.4,118.2 439.5,118.3 440.5,119.7 442.1,119.5 443.6,119.7 444.6,118.1 445.7,117.6 446.7,116.7 447.5,116.4 448.2,114.9 449.0,113.7 449.8,112.9 450.6,112.7 451.4,111.8 452.1,110.5 452.9,109.6 453.9,110.1 455.0,109.3 456.0,109.1 457.0,108.0 458.1,107.4 459.1,107.5 460.1,106.7 461.2,105.9 462.2,106.2 463.2,105.2 464.3,104.7 465.3,103.3 466.1,103.3 466.9,101.7 467.6,101.7 468.4,100.6 469.4,99.9 470.5,99.6 471.5,99.4 472.5,99.3 473.6,99.7 474.6,100.6 475.4,101.1 476.1,101.8 476.9,102.6 477.7,103.3 478.7,104.3 479.8,105.3 480.8,106.2 482.4,106.7 483.9,106.2 484.9,106.0 485.9,105.3 487.0,105.0 488.0,104.3 489.0,104.3 490.1,103.8 491.1,104.2 492.1,103.8 493.2,103.9 494.2,104.7 495.2,105.7 496.3,105.4 497.0,107.1 497.7,107.8 498.4,108.9 499.1,110.2 500.2,110.3 501.2,111.0 502.2,111.7 503.3,112.5 504.7,111.5 506.0,111.7 507.4,111.2 508.4,110.5 509.4,109.7 510.5,109.0 511.5,108.1 512.5,107.7 513.5,107.2 514.6,107.5 515.6,106.6 516.6,106.2 517.7,105.9 518.8,106.4 519.8,106.2 520.6,106.7 521.3,107.1 522.1,107.9 522.9,108.7 523.7,109.9 524.5,110.6 525.2,111.9 526.0,112.8 527.0,113.1 528.1,112.8 529.1,112.0 529.9,111.0 530.7,110.9 531.4,109.5 532.2,108.8 533.6,108.1 534.9,108.1 536.3,107.9 537.7,108.2 539.0,108.3 540.4,108.9 541.5,107.9 542.5,107.6 543.5,106.9 544.6,106.7 545.6,105.9 546.7,105.5 547.7,105.4 548.7,104.9 549.7,105.7 550.8,106.0 551.8,106.7 552.8,107.0 553.8,106.4 554.8,106.0 555.9,104.9 556.9,104.2 558.0,105.5 559.0,105.2 560.0,106.4 561.1,106.9 561.9,107.3 562.7,109.0 563.6,110.0 564.4,110.6 565.2,111.6 566.0,112.6 566.8,112.9 567.5,114.2 568.3,115.1 569.3,116.0 570.4,116.5 571.4,117.1 572.8,116.7 574.1,116.7 575.5,116.3 576.5,116.0 577.6,115.3 578.7,114.9 579.7,114.7 581.1,114.6 582.4,114.0 583.8,114.4 584.8,114.8 585.9,115.6 586.9,116.2 587.9,117.0 589.0,117.5 590.0,117.7 591.0,119.2 592.0,119.8 593.1,120.2 594.1,120.9 595.5,120.9 596.8,120.1 598.2,120.5 599.2,119.3 600.3,118.3 601.4,117.7 602.4,117.4 603.2,117.7 604.0,119.0 604.7,120.0 605.5,120.3 606.5,120.8 607.6,121.6 608.6,122.5 609.6,122.8 610.7,123.0 611.7,123.3 612.7,123.0 614.1,123.4 615.4,123.8 616.8,124.6 617.8,124.0 618.9,124.0 620.0,123.2 621.0,123.0 622.0,122.6 623.0,122.5 624.1,122.0 625.1,121.5 626.2,120.4 627.4,119.9 628.5,119.2" fill="none" stroke="#00B050" stroke-width="4.5" stroke-linejoin="round" stroke-linecap="round"/>
<polyline points="96.5,221.4 96.9,220.2 97.3,218.6 98.5,219.2 99.7,218.3 100.8,218.9 101.9,218.7 103.0,217.6 104.2,218.1 105.4,218.4 105.9,217.5 106.5,215.9 107.0,214.7 107.6,213.5 108.1,213.2 108.7,211.4 109.9,211.3 111.1,210.4 112.3,210.4 113.5,210.5 114.8,209.2 116.0,209.5 116.8,210.0 117.6,211.2 118.4,211.9 119.2,212.2 120.5,213.7 121.7,214.1 122.9,214.0 124.1,214.4 125.3,215.7 126.5,216.5 127.3,217.1 128.1,217.7 129.3,218.8 130.6,219.6 131.8,220.5 133.0,220.1 134.2,220.9 135.5,220.9 136.3,219.4 137.1,219.4 137.9,218.3 138.7,219.4 139.5,219.6 140.3,220.9 141.1,222.1 142.3,223.5 143.6,223.9 144.4,222.9 145.2,222.1 146.0,221.2 146.8,221.7 147.6,222.6 148.4,224.1 149.7,223.2 150.9,223.4 152.1,222.3 153.3,222.0 154.5,221.8 155.7,221.1 156.9,220.5 158.2,220.3 159.0,219.3 159.8,218.4 160.1,217.1 160.4,216.3 160.8,215.2 161.1,213.7 161.4,212.7 161.8,211.0 162.2,210.7 162.7,209.4 163.1,208.7 163.9,207.3 164.7,205.8 165.9,204.7 167.1,204.8 167.5,203.0 167.9,202.3 168.3,201.2 168.7,200.1 169.3,201.6 169.8,202.9 170.4,203.3 172.0,202.9 172.6,201.5 173.2,200.8 173.8,199.6 174.4,198.4 175.0,199.4 175.6,200.4 176.2,202.1 176.8,202.7 177.4,203.5 177.9,205.3 178.5,206.5 179.3,205.1 180.1,204.0 180.9,203.2 181.5,202.1 182.1,201.3 182.7,200.1 183.3,199.2 183.7,198.2 184.1,197.4 184.6,196.6 185.0,195.4 185.4,194.0 185.8,192.9 186.6,191.9 187.4,190.7 188.2,189.5 189.0,190.1 189.9,191.1 190.7,192.7 191.5,192.9 192.3,194.3 193.1,195.5 193.7,196.8 194.3,197.2 195.0,198.2 195.6,199.2 196.8,199.4 198.0,199.4 198.5,201.0 199.1,202.0 199.6,203.1 200.4,203.5 201.2,204.7 202.4,206.2 203.7,207.2 204.3,207.8 204.9,208.9 205.5,209.3 206.1,210.7 206.9,210.4 207.7,209.5 208.5,208.8 209.8,208.9 211.0,208.1 212.2,208.4 213.4,208.9 214.6,210.0 215.8,211.0 216.0,212.5 216.1,213.5 216.2,214.6 216.4,215.9 216.5,216.8 216.7,218.2 217.9,217.6 219.1,218.4 220.3,218.3 221.5,219.4 222.8,219.5 224.0,219.6 224.8,220.2 225.6,221.2 226.4,222.3 227.2,223.5 228.0,224.0 228.8,225.1 230.1,224.7 231.3,223.9 232.1,222.9 232.9,221.9 233.7,221.5 234.8,220.6 235.8,220.7 236.9,220.6 238.0,220.8 239.1,220.2 240.2,220.2 241.4,218.9 242.6,217.8 243.8,218.7 245.1,220.3 246.3,220.8 247.5,221.2 248.7,221.7 249.9,223.0 251.2,222.8 252.4,222.1 253.2,220.8 254.0,220.0 255.2,219.4 256.4,217.8 257.6,216.8 258.9,216.3 259.7,215.2 260.5,214.3 261.7,213.0 262.9,212.8 264.0,212.5 265.1,212.0 266.2,211.4 267.3,211.8 268.3,210.7 269.4,210.8 270.2,211.2 271.0,212.1 271.8,213.6 272.4,214.1 273.1,215.8 273.7,216.3 274.3,217.0 275.1,216.2 275.9,215.6 276.7,215.1 277.5,214.5 278.4,212.9 279.2,212.4 280.4,213.0 281.6,214.6 282.4,214.7 283.2,215.7 284.1,216.7 284.9,218.0 285.7,219.6 286.5,220.7 287.3,221.6 288.5,222.3 289.7,222.6 290.9,222.8 292.2,223.5 293.0,225.1 293.8,225.7 294.6,225.8 295.1,227.5 295.7,228.3 296.2,229.4 297.4,228.9 298.7,228.4 299.9,227.4 301.1,226.9 302.2,227.0 303.3,227.6 304.4,226.7 305.5,227.6 306.5,226.8 307.6,227.0 308.8,228.2 310.0,229.0 311.2,229.4 312.5,229.8 313.6,230.0 314.6,229.6 315.7,229.9 316.8,228.9 317.9,228.8 319.0,229.1 320.2,228.2 321.4,228.6 322.2,227.9 323.0,226.8 323.8,225.0 325.1,224.2 326.3,223.4 327.1,223.2 327.9,221.4 328.7,220.8 329.9,220.2 331.1,218.8 332.4,219.6 333.6,221.1 334.8,221.1 336.0,221.2 337.2,221.2 338.4,220.4 339.6,220.0 340.9,219.3 341.7,219.0 342.5,218.0 343.3,216.6 343.7,215.9 344.1,214.0 344.5,213.2 344.9,212.5 345.8,211.7 346.6,210.5 347.4,208.8 348.2,207.6 349.0,206.7 349.6,205.8 350.2,205.2 350.8,203.4 351.4,203.0 352.6,203.8 353.9,204.7 354.3,205.9 354.7,206.9 355.1,207.8 355.5,209.0 355.9,210.3 356.3,211.9 356.7,212.5 357.1,213.8 357.9,215.2 358.7,215.4 359.5,216.1 360.8,216.8 362.0,218.2 363.2,218.4 364.4,219.5 365.6,219.4 366.8,219.5 368.1,219.2 369.3,219.4 370.4,219.4 371.4,219.8 372.5,220.0 373.4,220.5 374.2,221.1 374.7,222.3 375.2,223.5 375.6,224.5 376.1,225.6 376.6,226.6 377.1,227.5 377.7,228.1 378.2,229.8 379.4,229.7 380.7,230.4 381.9,229.4 383.1,228.9 383.6,227.3 384.2,226.3 384.7,225.2 385.5,224.5 386.4,224.6 387.2,223.6 388.4,223.9 389.6,224.5 390.7,225.4 391.8,225.2 392.9,225.2 394.0,226.1 395.0,226.2 396.1,226.8 397.2,226.2 398.3,226.8 399.4,227.4 399.8,226.2 400.2,225.1 400.6,223.0 401.0,222.0 401.4,220.8 401.8,219.8 402.2,219.6 402.6,218.2 403.8,217.7 405.0,216.4 406.2,216.1 407.5,214.8 408.7,214.3 409.9,214.4 410.7,213.4 411.5,211.5 412.3,210.9 412.8,210.0 413.3,208.6 413.8,207.8 414.3,206.6 414.8,205.7 416.0,205.0 417.2,204.5 418.0,205.4 418.8,205.7 419.6,206.3 420.4,207.4 421.3,208.6 422.1,208.9 423.3,208.6 424.5,208.1 425.3,207.9 426.2,206.8 427.0,205.6 428.2,205.2 429.4,205.1 430.2,206.1 431.0,206.9 431.8,207.2 432.6,208.1 433.5,209.4 434.3,209.9 435.5,210.6 436.7,211.5 437.9,211.7 439.1,210.6 440.4,211.3 441.6,211.6 442.8,212.4 444.0,213.7 445.2,214.2 446.4,214.0 446.8,214.8 447.2,216.3 447.7,216.8 448.1,217.6 448.9,217.7 449.7,216.4 450.5,215.6 451.3,214.0 452.5,215.3 453.7,215.7 454.9,215.8 456.2,216.0 457.4,217.0 458.6,217.4 459.8,217.7 461.0,216.9 462.2,217.0 463.5,216.4 464.3,217.3 465.1,217.8 465.9,218.8 466.7,217.9 467.5,217.2 468.3,215.3 469.1,214.8 470.0,214.3 470.8,213.6 471.6,212.0 472.4,211.1 473.6,211.1 474.9,210.4 476.0,209.6 477.0,208.9 478.1,209.5 479.2,209.3 480.3,210.0 481.4,210.0 482.5,210.0 483.5,209.0 484.6,209.4 485.8,208.4 487.0,208.2 488.2,207.8 489.5,207.0 490.7,205.5 491.9,204.7 493.1,204.5 494.4,204.2 495.2,203.3 496.0,202.2 496.8,201.5 497.6,201.2 498.4,200.6 499.6,200.5 500.8,201.9 502.1,202.9 503.3,202.9 504.5,204.1 505.7,203.8 506.9,205.1 508.1,205.9 509.4,206.8 510.6,207.3 511.4,206.6 512.2,205.9 513.0,204.9 513.8,206.0 514.7,206.6 515.5,207.4 516.7,207.4 517.9,208.4 519.1,207.9 520.3,207.2 521.1,208.6 522.0,209.4 522.8,209.9 524.0,208.8 525.2,208.3 526.0,206.8 526.8,205.7 527.6,204.9 528.9,203.8 530.1,203.3 531.3,203.0 532.5,202.1 533.7,201.9 534.9,200.6 536.1,201.6 537.4,202.1 538.6,202.2 539.8,202.2 541.0,201.8 542.2,200.9 543.5,201.1 544.7,199.8 545.9,199.7 547.1,199.0 547.6,197.7 548.2,196.7 548.7,195.0 549.5,196.6 550.4,196.9 551.2,198.2 552.4,199.0 553.6,199.1 554.8,199.2 556.0,198.9 557.2,197.3 558.5,196.8 559.3,198.3 560.1,198.8 560.9,200.6 561.5,201.1 562.1,202.8 562.7,203.2 564.0,204.1 565.3,204.9 566.6,204.7 568.0,205.2 569.3,205.9 570.6,206.1 572.0,205.8 573.3,206.0 574.6,205.5 575.9,205.8 576.8,206.2 577.7,207.0 578.6,206.9 579.9,206.6 581.2,205.0 582.1,204.8 583.0,204.3 583.9,203.5 585.2,203.1 586.5,202.0 587.9,201.5 589.2,201.4 590.5,200.2 591.9,200.6 593.2,199.8 594.5,199.1 595.9,199.0 597.2,198.1 598.5,198.3 599.8,197.5 601.1,196.8 602.5,196.8 603.8,196.0 605.1,195.4 606.0,195.3 606.9,194.0 607.8,194.2 608.4,192.8 609.1,192.3 609.8,191.8 610.4,190.5 611.8,191.0 613.1,191.0 614.5,191.2 615.8,191.6 617.1,192.2 618.4,193.1 619.8,193.4 621.1,193.9 622.4,194.3 623.7,193.5 624.4,192.8 625.0,192.3 625.7,190.8 626.4,189.9 627.5,191.1 628.5,192.1" fill="none" stroke="#0000FF" stroke-width="4.0" stroke-linejoin="round" stroke-linecap="round"/>
<polyline points="96.8,186.8 97.7,186.2 98.5,185.2 99.4,184.7 100.3,183.8 101.5,182.6 102.6,182.3 103.8,181.4 104.7,180.0 105.6,179.8 106.5,178.1 106.8,177.0 107.1,175.9 107.4,175.4 107.7,174.6 108.0,173.5 108.3,172.1 108.6,170.9 109.0,169.6 109.3,169.2 109.7,168.0 110.0,166.8 111.3,166.8 112.7,166.4 114.1,167.5 115.4,167.9 116.2,168.3 117.1,169.9 117.7,170.2 118.3,171.9 118.9,172.9 120.2,173.6 121.5,174.4 122.4,174.5 123.3,173.1 124.2,173.1 125.1,174.3 126.0,174.4 126.6,175.4 127.1,176.7 127.7,177.5 129.1,177.2 130.4,176.9 131.7,176.5 133.0,176.9 133.9,176.1 134.8,175.1 135.7,175.2 137.1,174.8 138.4,174.5 139.0,174.9 139.5,176.8 140.1,177.7 140.5,178.5 140.8,179.9 141.2,180.6 141.5,181.5 141.9,182.4 142.5,183.7 143.1,184.7 143.7,186.1 143.9,185.4 144.0,184.2 144.2,183.2 144.4,181.9 144.6,180.3 144.7,179.5 144.9,178.2 145.1,177.4 145.2,176.0 145.4,174.6 146.3,175.5 147.2,176.5 148.1,176.3 149.4,176.5 150.8,175.2 152.1,174.6 153.4,173.6 154.7,175.0 156.0,176.1 157.3,175.5 158.7,174.6 159.1,174.1 159.6,172.4 160.1,171.2 160.5,170.8 160.6,169.5 160.8,168.5 160.9,167.4 161.1,166.6 161.2,165.1 161.3,164.4 161.5,163.2 161.6,162.3 161.8,160.8 161.9,160.0 162.6,159.0 163.3,157.8 164.0,156.8 165.0,157.0 165.5,155.4 166.1,155.2 166.6,153.3 167.2,152.1 167.7,151.1 169.0,151.5 170.3,150.5 171.2,149.4 172.1,148.4 173.0,147.5 173.6,149.1 174.1,149.9 174.7,150.9 175.0,152.1 175.3,152.6 175.6,154.3 175.9,155.2 176.2,156.9 176.5,158.0 176.8,159.1 177.1,159.3 177.4,161.2 177.7,162.2 178.0,163.3 178.3,163.5 179.6,164.5 180.9,165.3 181.3,164.2 181.7,164.0 182.1,163.0 182.4,161.8 182.8,161.0 183.2,159.7 183.6,158.4 183.8,157.1 184.1,156.0 184.3,155.6 184.5,153.9 184.7,152.9 184.9,151.9 185.2,150.4 185.4,149.6 185.7,148.4 186.0,147.6 186.2,146.1 186.5,144.9 186.8,144.3 187.1,142.7 188.0,142.2 188.9,141.0 189.6,141.3 190.2,142.6 190.8,143.5 191.5,144.8 192.4,145.2 193.3,146.4 193.9,147.4 194.5,148.3 195.1,150.2 196.0,148.5 196.9,148.3 197.5,148.6 198.0,149.3 198.6,150.4 198.9,152.1 199.2,153.5 199.5,153.7 199.8,155.4 200.1,156.5 200.4,158.0 200.8,158.5 201.1,159.9 201.5,160.8 201.8,162.4 202.2,162.9 203.1,164.4 203.9,164.6 204.3,165.5 204.8,167.1 205.2,167.9 205.7,168.5 206.2,170.1 206.6,170.6 207.0,170.3 207.5,169.1 207.9,168.2 208.3,167.0 208.8,165.7 209.2,164.7 210.1,165.6 211.0,167.0 211.9,167.1 213.2,167.9 214.6,167.0 215.2,168.4 215.7,169.6 216.3,171.4 216.6,172.1 216.9,173.1 217.1,174.7 217.4,175.1 217.7,176.5 217.9,177.6 218.0,178.9 218.2,180.0 218.3,181.0 218.5,181.7 219.8,182.1 221.2,182.4 221.8,183.9 222.4,184.7 223.0,185.6 223.6,186.0 224.1,187.1 224.7,188.4 225.4,189.3 226.1,189.9 226.7,191.4 227.4,192.9 228.3,193.1 229.2,193.9 229.5,192.8 229.9,192.0 230.2,190.9 230.6,189.0 230.9,187.8 231.5,186.6 232.1,185.5 232.7,184.5 233.6,183.6 234.5,183.1 235.4,182.4 236.7,182.8 238.0,182.1 238.9,180.9 239.8,181.2 240.7,179.7 241.3,179.1 242.0,178.8 242.7,177.7 243.3,176.7 244.7,176.4 246.0,176.2 247.3,175.8 248.6,174.4 249.5,173.9 250.4,173.5 251.3,172.5 252.0,172.0 252.6,171.5 253.2,170.6 253.9,169.5 254.8,169.0 255.7,168.3 256.6,167.3 257.1,166.7 257.5,165.5 258.0,164.8 258.4,163.9 258.9,162.3 259.2,161.4 259.5,160.6 259.8,159.2 260.1,158.0 260.4,157.5 260.7,156.6 262.4,157.4 262.8,158.4 263.1,159.6 263.5,160.5 263.8,161.5 264.2,162.4 265.2,161.8 266.3,161.6 266.8,160.0 267.2,159.2 267.7,158.5 268.1,157.3 269.1,157.7 270.2,157.8 270.6,159.0 271.1,160.2 271.6,161.4 272.0,162.3 272.5,163.6 272.9,165.0 273.4,165.3 273.8,166.8 274.3,168.0 275.6,168.0 276.9,168.6 277.8,168.5 278.7,166.9 279.6,166.8 280.8,166.5 281.9,167.1 283.1,168.1 284.4,168.6 284.8,169.3 285.1,170.9 285.4,171.9 285.8,173.2 286.2,174.1 286.7,175.3 287.2,176.6 287.6,177.4 288.9,178.2 290.2,179.6 291.0,179.7 291.8,180.9 292.1,181.7 292.5,183.1 292.8,183.5 293.2,185.4 293.5,185.9 294.4,186.2 295.3,187.0 296.2,187.7 297.5,186.9 298.8,186.8 299.4,185.9 300.0,185.3 300.6,184.1 302.0,183.6 303.3,183.1 304.6,184.0 305.9,184.6 306.8,183.7 307.7,182.8 308.6,182.8 309.9,182.8 311.2,183.1 311.6,184.1 311.9,185.8 312.3,186.9 312.6,187.8 313.0,188.7 313.9,189.6 314.8,190.2 315.7,191.8 317.0,191.6 318.3,192.3 319.2,193.1 320.1,193.7 321.0,194.0 321.9,194.7 322.7,195.8 323.1,194.3 323.6,193.9 324.1,192.3 324.5,191.7 324.9,190.0 325.4,189.0 325.9,187.8 326.3,186.8 326.9,185.7 327.5,184.6 328.1,184.4 329.4,183.6 330.7,183.1 332.0,183.6 333.4,184.2 334.0,185.0 334.5,186.1 335.1,187.1 336.9,187.7 338.2,187.8 339.6,187.3 340.9,185.6 342.2,185.4 342.5,184.5 342.8,183.3 343.1,181.6 343.4,181.3 343.7,180.1 344.0,178.4 344.3,177.2 344.6,177.0 344.9,175.6 345.2,174.0 345.5,172.7 345.8,171.5 346.1,170.5 346.4,169.8 346.6,168.2 346.9,166.8 347.2,166.4 347.5,165.1 347.9,163.4 348.4,163.0 348.9,161.6 349.3,160.7 350.5,160.1 351.6,159.9 352.3,161.0 353.0,162.2 353.7,162.7 354.0,164.3 354.2,165.3 354.5,166.7 354.7,167.5 355.0,169.1 355.2,169.9 355.5,170.8 355.9,171.8 356.2,172.8 356.5,174.3 356.9,175.0 357.4,176.5 357.9,177.2 358.5,178.7 359.0,179.8 360.0,180.0 360.7,181.5 361.3,181.7 362.0,183.6 363.0,184.3 364.0,185.4 365.3,186.1 366.6,186.9 367.7,186.5 368.9,186.5 370.0,187.1 371.1,186.4 372.2,187.2 373.3,187.4 374.0,187.7 374.6,189.1 375.3,190.1 375.5,191.4 375.7,192.0 376.0,193.7 376.2,194.4 376.4,195.5 376.6,197.0 376.9,197.2 377.1,198.9 377.4,199.9 377.6,200.7 377.9,202.3 378.9,202.8 379.9,203.9 381.2,204.2 382.6,204.8 383.2,202.9 383.9,201.8 384.0,200.8 384.2,199.8 384.3,199.0 384.5,197.5 384.6,196.9 385.0,195.4 385.5,194.3 385.9,193.0 387.9,192.6 388.9,193.7 389.9,194.1 390.9,194.8 391.9,195.0 393.2,195.4 394.5,195.7 395.9,196.0 397.2,196.0 399.2,196.9 399.6,194.8 400.1,194.2 400.5,193.0 400.6,191.6 400.8,190.0 400.9,189.2 401.1,187.9 401.2,187.0 401.6,186.4 402.1,184.7 402.5,183.5 403.9,182.9 405.2,182.4 406.1,181.4 406.9,180.8 407.8,180.1 408.5,179.3 409.1,178.3 409.8,177.5 410.5,175.7 411.1,174.8 411.8,173.6 412.5,173.0 413.4,171.6 414.4,171.0 414.6,169.8 414.9,169.5 415.1,168.6 415.4,167.3 415.6,166.0 415.8,165.4 416.1,164.3 416.3,163.1 416.9,161.6 417.5,160.5 418.1,159.4 419.0,160.2 419.9,161.2 420.8,162.2 422.1,162.1 423.4,160.8 424.3,160.7 425.2,159.6 426.1,159.1 427.4,159.4 428.7,158.7 430.0,159.5 431.4,159.4 432.0,159.9 432.7,161.1 433.4,162.2 434.0,163.4 434.9,164.1 435.8,164.2 436.7,164.7 438.0,163.5 439.3,163.1 440.0,161.8 440.6,160.9 441.3,159.9 442.0,159.0 443.1,160.0 444.2,159.7 445.3,160.9 445.8,161.1 446.2,163.0 446.7,163.3 447.1,164.3 447.3,166.3 447.5,167.0 447.6,168.8 447.8,169.4 448.0,170.6 448.2,172.4 448.4,173.4 448.6,174.7 448.8,175.6 449.2,176.1 449.7,177.7 450.2,178.9 450.6,179.8 451.5,180.8 452.4,180.8 453.3,182.1 454.6,182.3 455.9,182.0 457.2,182.0 458.6,182.7 459.9,183.7 461.2,183.8 462.1,184.9 463.0,186.2 463.9,186.6 464.8,188.2 465.7,188.7 466.5,187.4 467.4,186.8 468.8,186.5 470.1,185.9 471.0,185.3 471.8,183.9 472.7,183.7 473.3,182.4 473.9,181.7 474.5,180.8 475.4,179.8 476.3,178.9 477.2,178.4 478.1,177.6 478.9,176.6 479.8,175.5 481.1,174.7 482.5,174.1 483.8,174.1 485.1,172.9 486.0,172.5 486.9,171.4 487.8,171.1 488.7,170.6 489.5,169.5 490.4,168.4 491.3,167.2 492.2,166.5 493.1,166.1 494.0,164.7 494.9,164.1 495.8,163.1 496.4,162.2 496.9,161.0 497.5,159.3 498.4,158.4 499.3,158.1 500.2,157.6 501.9,156.9 502.8,158.0 503.7,159.0 505.0,158.6 506.4,159.8 507.0,161.0 507.5,162.2 508.1,163.1 508.6,163.9 509.0,165.6 509.4,166.6 509.9,167.6 510.5,168.7 511.1,169.0 511.7,169.7 512.6,169.3 513.5,168.6 514.4,166.7 515.2,166.0 516.1,165.5 517.0,164.2 517.9,164.0 519.0,163.9 520.1,163.5 521.2,163.1 522.1,162.5 523.0,162.3 523.8,161.7 524.7,160.7 525.1,159.2 525.4,158.9 525.8,157.8 526.1,156.2 526.5,155.5 527.4,154.9 528.3,154.0 529.6,153.2 530.9,152.7 532.2,152.8 533.6,152.4 534.9,152.0 536.2,151.6 537.1,152.7 538.0,152.9 538.9,153.7 540.0,153.9 541.1,153.3 542.2,152.2 543.3,151.4 544.4,151.6 545.6,151.0 546.8,150.7 547.9,151.2 549.1,151.4 550.3,150.8 551.2,151.9 552.1,152.4 552.9,153.3 553.8,153.5 554.7,154.2 555.9,155.7 557.1,156.0 558.2,156.1 559.4,156.6 560.6,156.8 561.6,157.9 562.7,158.1 563.7,159.2 564.8,159.6 565.8,160.2 567.0,159.9 568.3,158.7 569.5,157.9 570.7,157.8 571.9,157.5 573.0,157.1 574.2,156.8 575.4,157.1 576.3,157.9 577.2,158.1 578.2,159.1 579.1,159.6 579.6,159.7 580.2,161.1 580.8,161.9 581.3,162.5 582.0,162.4 582.8,160.8 583.5,160.2 584.2,159.3 584.8,158.8 585.5,157.7 586.1,156.6 586.8,155.8 587.4,154.6 588.1,154.6 588.7,153.8 589.6,152.1 590.5,151.0 591.3,150.4 592.2,149.6 593.1,149.2 594.0,148.5 595.0,147.7 595.9,146.2 596.8,146.2 597.8,145.7 598.8,145.2 599.9,145.1 600.9,143.7 601.9,143.3 602.8,143.4 603.8,143.0 604.7,142.2 605.6,141.3 606.4,140.8 607.1,140.3 607.2,138.5 607.4,137.5 607.7,136.4 608.0,135.2 608.2,134.5 608.5,133.1 608.8,132.1 609.2,130.9 609.7,130.4 610.1,128.6 610.6,128.2 611.5,126.8 612.3,125.7 613.2,125.7 614.5,125.5 615.9,126.6 616.5,127.6 617.1,128.6 617.7,128.8 618.9,129.5 620.0,129.5 621.2,130.6 622.1,131.3 623.0,131.9 623.9,132.6 624.8,133.2 626.0,133.5 627.1,132.9 628.3,132.7" fill="none" stroke="#ED7D31" stroke-width="4.2" stroke-linejoin="round" stroke-linecap="round"/>
<g opacity="0.78"><line x1="67" y1="185.2" x2="610" y2="153.1" stroke="#FF0000" stroke-width="4.4" stroke-linecap="round"/><polygon points="607.9,147.2 629.1,152.3 607.9,159.8" fill="#FF0000"/></g>
<rect x="277" y="132.5" width="130" height="30.5" fill="#fff" fill-opacity="0.72"/>
<text x="341" y="145.0" text-anchor="middle" font-weight="bold" font-size="12.6" fill="#FF0000">y = 0.0002x + 0.0444</text>
<text x="341" y="159.5" text-anchor="middle" font-weight="bold" font-size="12.6" fill="#FF0000">R² = 0.0503</text>
<path d="M522.6,63 C540,61.5 565,64.5 603,80.5" fill="none" stroke="#00B050" stroke-width="5"/>
<polygon points="622.2,87.5 604.2,73.6 599.1,84.9" fill="#00B050"/>
<path d="M512.6,241.2 C540,242.5 575,237 611,225" fill="none" stroke="#0000FF" stroke-width="5.2"/>
<polygon points="629.8,218.3 607.3,220.3 612.4,231.6" fill="#0000FF"/>
<g stroke="#1a1a1a" stroke-width="1.7" fill="none">
<path d="M45,10.4 V287.7 H629.5"/>
<path d="M45,287.7 H49"/>
<path d="M45,232.2 H49"/>
<path d="M45,176.8 H49"/>
<path d="M45,121.3 H49"/>
<path d="M45,65.9 H49"/>
<path d="M45,10.4 H49"/>
<path d="M45.0,287.7 V283.7"/>
<path d="M98.1,287.7 V283.7"/>
<path d="M151.2,287.7 V283.7"/>
<path d="M204.3,287.7 V283.7"/>
<path d="M257.4,287.7 V283.7"/>
<path d="M310.5,287.7 V283.7"/>
<path d="M363.5,287.7 V283.7"/>
<path d="M416.6,287.7 V283.7"/>
<path d="M469.7,287.7 V283.7"/>
<path d="M522.8,287.7 V283.7"/>
<path d="M575.9,287.7 V283.7"/>
<path d="M629.0,287.7 V283.7"/>
</g>
<g stroke="#ED7D31" stroke-width="1.6" fill="none"><path d="M629.5,10.4 V287.7"/>
<path d="M629.5,287.7 H625.5"/>
<path d="M629.5,232.2 H625.5"/>
<path d="M629.5,176.8 H625.5"/>
<path d="M629.5,121.3 H625.5"/>
<path d="M629.5,65.9 H625.5"/>
<path d="M629.5,10.4 H625.5"/>
</g>
<text x="34.5" y="292.0" text-anchor="end" font-weight="bold" font-size="12.4" fill="#000">0</text>
<text x="640.5" y="292.0" font-weight="bold" font-size="12" fill="#ED7D31">0.0</text>
<text x="34.5" y="236.5" text-anchor="end" font-weight="bold" font-size="12.4" fill="#000">1</text>
<text x="640.5" y="236.5" font-weight="bold" font-size="12" fill="#ED7D31">0.2</text>
<text x="34.5" y="181.1" text-anchor="end" font-weight="bold" font-size="12.4" fill="#000">2</text>
<text x="640.5" y="181.1" font-weight="bold" font-size="12" fill="#ED7D31">0.4</text>
<text x="34.5" y="125.6" text-anchor="end" font-weight="bold" font-size="12.4" fill="#000">3</text>
<text x="640.5" y="125.6" font-weight="bold" font-size="12" fill="#ED7D31">0.6</text>
<text x="34.5" y="70.2" text-anchor="end" font-weight="bold" font-size="12.4" fill="#000">4</text>
<text x="640.5" y="70.2" font-weight="bold" font-size="12" fill="#ED7D31">0.8</text>
<text x="34.5" y="14.7" text-anchor="end" font-weight="bold" font-size="12.4" fill="#000">5</text>
<text x="640.5" y="14.7" font-weight="bold" font-size="12" fill="#ED7D31">1.0</text>
<text x="45.0" y="307.2" text-anchor="middle" font-size="12.1" fill="#000">1450</text>
<text x="98.1" y="307.2" text-anchor="middle" font-size="12.1" fill="#000">1500</text>
<text x="151.2" y="307.2" text-anchor="middle" font-size="12.1" fill="#000">1550</text>
<text x="204.3" y="307.2" text-anchor="middle" font-size="12.1" fill="#000">1600</text>
<text x="257.4" y="307.2" text-anchor="middle" font-size="12.1" fill="#000">1650</text>
<text x="310.5" y="307.2" text-anchor="middle" font-size="12.1" fill="#000">1700</text>
<text x="363.5" y="307.2" text-anchor="middle" font-size="12.1" fill="#000">1750</text>
<text x="416.6" y="307.2" text-anchor="middle" font-size="12.1" fill="#000">1800</text>
<text x="469.7" y="307.2" text-anchor="middle" font-size="12.1" fill="#000">1850</text>
<text x="522.8" y="307.2" text-anchor="middle" font-size="12.1" fill="#000">1900</text>
<text x="575.9" y="307.2" text-anchor="middle" font-size="12.1" fill="#000">1950</text>
<text x="629.0" y="307.2" text-anchor="middle" font-size="12.1" fill="#000">2000</text>
<text x="341" y="338.3" text-anchor="middle" font-weight="bold" font-size="14.2" fill="#000">Calendar Year</text>
<text transform="translate(10.6,147.3) rotate(-90)" text-anchor="middle" font-weight="bold" font-size="14.4" fill="#000">intensity (non-dimension)</text>
<text transform="translate(682.2,147.6) rotate(-90)" text-anchor="middle" font-weight="bold" font-size="14.45" fill="#ED7D31">normalized flood intensity</text>
<circle cx="109.5" cy="257.5" r="1.85" fill="#00B050"/><text x="123" y="261.2" font-size="10.8" fill="#595959">precipitation intensity</text>
<circle cx="281.6" cy="257.5" r="1.85" fill="#0000FF"/><text x="295" y="261.2" font-size="10.8" fill="#595959">flood intensity</text>
<circle cx="453.6" cy="257.5" r="1.85" fill="#ED7D31"/><text x="467.5" y="261.2" font-size="10.8" fill="#595959">normalized flood intensity</text>
<line x1="98" y1="272.0" x2="121" y2="272.0" stroke="#00B050" stroke-width="3.8" stroke-linecap="round"/>
<text x="123.5" y="276.2" font-size="10.8" fill="#595959">30-year moving line</text>
<line x1="270" y1="272.0" x2="293" y2="272.0" stroke="#0000FF" stroke-width="3.8" stroke-linecap="round"/>
<text x="295.5" y="276.2" font-size="10.8" fill="#595959">30-year moving line</text>
<line x1="442.4" y1="272.0" x2="465.4" y2="272.0" stroke="#ED7D31" stroke-width="3.8" stroke-linecap="round"/>
<text x="467.9" y="276.2" font-size="10.8" fill="#595959">30-year moving line</text>
</svg>
</body></html>
